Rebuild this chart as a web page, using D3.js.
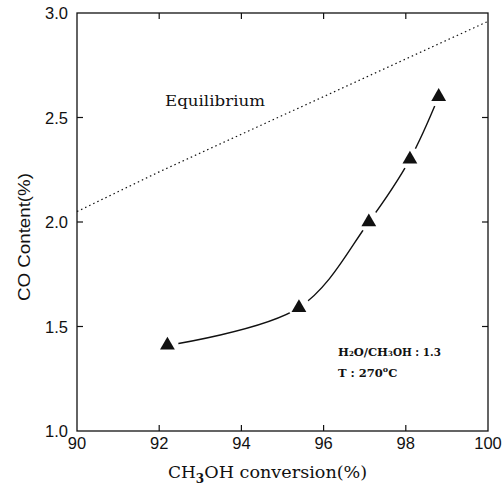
<!DOCTYPE html>
<html>
<head>
<meta charset="utf-8">
<script src="https://cdn.jsdelivr.net/npm/d3@7"></script>
<style>
  html, body { margin: 0; padding: 0; background: #fff; }
  svg { display: block; }
</style>
</head>
<body>
<svg id="chart" width="504" height="497"></svg>
<script>
// Measured CO content vs methanol conversion
const conversion = [92.2, 95.4, 97.1, 98.1, 98.8];
const coContent = [1.41, 1.59, 2.0, 2.3, 2.6];

// Equilibrium CO content
const eqConversion = [90, 92, 94, 96, 98, 100];
const eqContent = [2.05, 2.24, 2.42, 2.60, 2.78, 2.96];

const xTicks = [90, 92, 94, 96, 98, 100];
const yTicks = [1.0, 1.5, 2.0, 2.5, 3.0];

const svg = d3.select("#chart");
const m = { left: 77, top: 13, right: 488, bottom: 431 };

const x = d3.scaleLinear().domain([90, 100]).range([m.left, m.right]);
const y = d3.scaleLinear().domain([1.0, 3.0]).range([m.bottom, m.top]);

const ink = "#111";
const sans = "'Liberation Sans', Arial, sans-serif";
const serif = "'DejaVu Serif', 'Liberation Serif', serif";

// Frame
svg.append("rect")
  .attr("x", m.left).attr("y", m.top)
  .attr("width", m.right - m.left).attr("height", m.bottom - m.top)
  .attr("fill", "none").attr("stroke", ink).attr("stroke-width", 1.3);

// Inward ticks on all four sides
const tl = 6;
const g = svg.append("g").attr("stroke", ink).attr("stroke-width", 1.2);
xTicks.slice(1, -1).forEach(t => {
  g.append("line").attr("x1", x(t)).attr("x2", x(t)).attr("y1", m.bottom).attr("y2", m.bottom - tl);
  g.append("line").attr("x1", x(t)).attr("x2", x(t)).attr("y1", m.top).attr("y2", m.top + tl);
});
yTicks.slice(1, -1).forEach(t => {
  g.append("line").attr("y1", y(t)).attr("y2", y(t)).attr("x1", m.left).attr("x2", m.left + tl);
  g.append("line").attr("y1", y(t)).attr("y2", y(t)).attr("x1", m.right).attr("x2", m.right - tl);
});

// Tick labels
svg.append("g").selectAll("text").data(xTicks).join("text")
  .attr("x", d => x(d)).attr("y", m.bottom + 18)
  .attr("text-anchor", "middle")
  .attr("font-family", sans).attr("font-size", 16.5).attr("fill", ink)
  .text(d => d);

svg.append("g").selectAll("text").data(yTicks).join("text")
  .attr("x", m.left - 9).attr("y", d => y(d) + 6)
  .attr("text-anchor", "end")
  .attr("font-family", sans).attr("font-size", 16.5).attr("fill", ink)
  .text(d => d.toFixed(1));

// Axis titles
svg.append("text")
  .attr("transform", `translate(30,${237}) rotate(-90)`)
  .attr("text-anchor", "middle")
  .attr("font-family", sans).attr("font-size", 16).attr("fill", ink)
  .attr("textLength", 128).attr("lengthAdjust", "spacingAndGlyphs")
  .text("CO Content(%)");

const xt = svg.append("text")
  .attr("x", 168).attr("y", 478)
  .attr("font-family", serif).attr("font-size", 17).attr("fill", ink);
xt.append("tspan").text("CH");
xt.append("tspan").attr("dy", 5).attr("font-size", 12).attr("font-weight", "bold").text("3");
xt.append("tspan").attr("dy", -5)
  .attr("textLength", 163).attr("lengthAdjust", "spacingAndGlyphs")
  .text("OH conversion(%)");

// Equilibrium line (dotted)
const eqLine = d3.line().x(d => x(d[0])).y(d => y(d[1]));
svg.append("path")
  .datum(eqConversion.map((c, i) => [c, eqContent[i]]))
  .attr("d", eqLine)
  .attr("fill", "none").attr("stroke", ink).attr("stroke-width", 1.2)
  .attr("stroke-dasharray", "1.5,3");

svg.append("text")
  .attr("x", 165).attr("y", 106)
  .attr("font-family", serif).attr("font-size", 15).attr("fill", ink)
  .attr("textLength", 100).attr("lengthAdjust", "spacingAndGlyphs")
  .text("Equilibrium");

// Smooth fitted curve through measured points
const pts = conversion.map((c, i) => [c, coContent[i]]);
const fit = d3.line().x(d => x(d[0])).y(d => y(d[1])).curve(d3.curveCatmullRom.alpha(0.5));
svg.append("path")
  .datum(pts)
  .attr("d", fit)
  .attr("fill", "none").attr("stroke", ink).attr("stroke-width", 1.4);

// Clear gaps around markers
svg.append("g").selectAll("circle").data(pts).join("circle")
  .attr("cx", d => x(d[0])).attr("cy", d => y(d[1]) - 1)
  .attr("r", 11).attr("fill", "#fff");

// Triangle markers
const tri = d3.symbol().type(d3.symbolTriangle).size(95);
svg.append("g").selectAll("path").data(pts).join("path")
  .attr("transform", d => `translate(${x(d[0])},${y(d[1])})`)
  .attr("d", tri).attr("fill", ink);

// Conditions
const ann = svg.append("g").attr("font-family", serif).attr("font-size", 11.5)
  .attr("font-weight", "bold").attr("fill", ink);
const a1 = ann.append("text").attr("x", 338).attr("y", 356);
a1.append("tspan").text("H");
a1.append("tspan").attr("font-size", 7).text("2");
a1.append("tspan").text("O/CH");
a1.append("tspan").attr("font-size", 7).text("3");
a1.append("tspan").attr("textLength", 48).attr("lengthAdjust", "spacingAndGlyphs").text("OH : 1.3");
const a2 = ann.append("text").attr("x", 338).attr("y", 377);
a2.append("tspan").text("T : 270");
a2.append("tspan").attr("font-size", 8).attr("dy", -5).text("o");
a2.append("tspan").attr("dy", 5).text("C");
</script>
</body>
</html>
